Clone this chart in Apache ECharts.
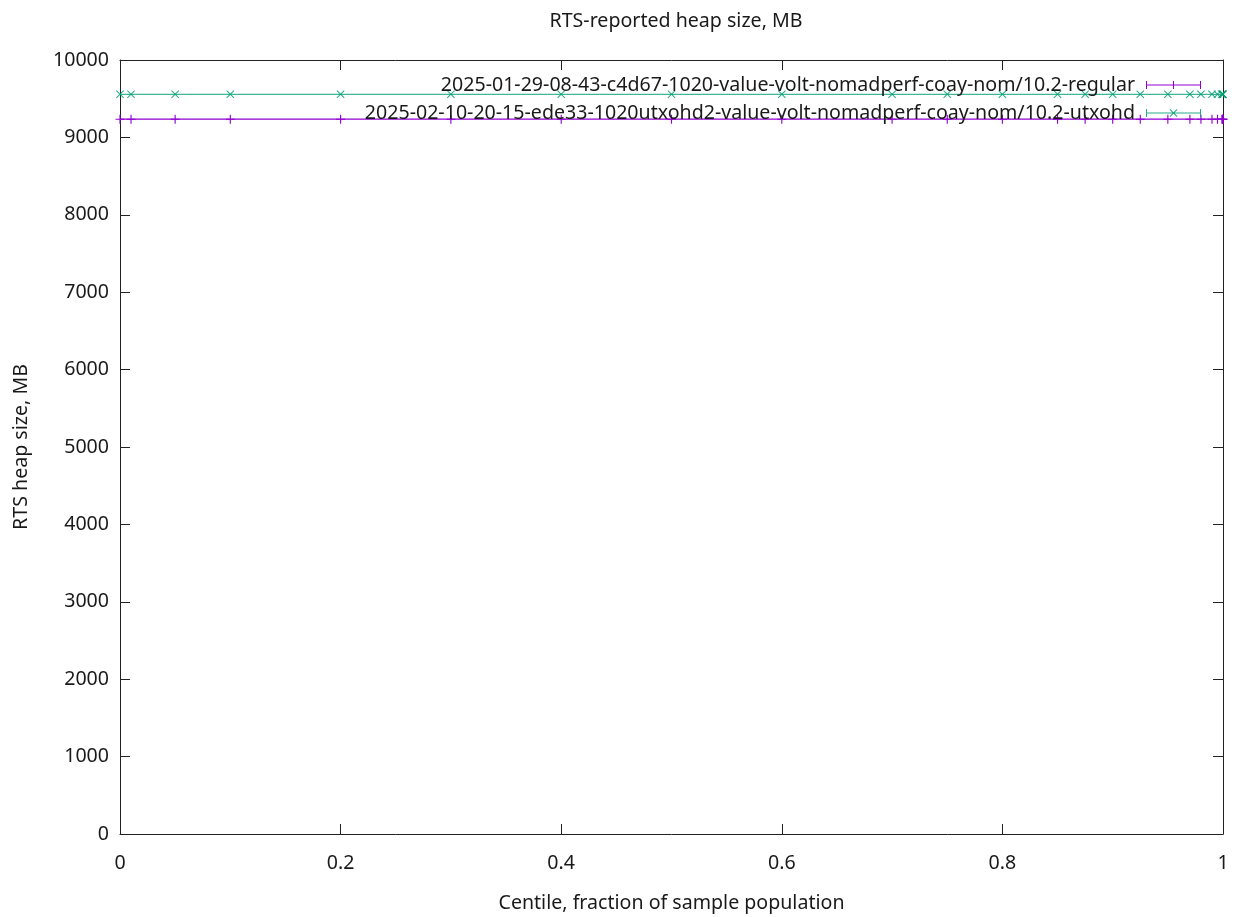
<!DOCTYPE html>
<html>
<head>
<meta charset="utf-8">
<script src="https://cdn.jsdelivr.net/npm/echarts@6/dist/echarts.min.js"></script>
<style>
html,body{margin:0;padding:0;background:#fff;}
#chart{width:1237px;height:917px;}
</style>
</head>
<body>
<div id="chart"></div>
<script>
// Data
const centiles = [0, 0.01, 0.05, 0.1, 0.2, 0.3, 0.4, 0.5, 0.6, 0.7, 0.75, 0.8, 0.85, 0.875, 0.9, 0.925, 0.95, 0.97, 0.98, 0.99, 0.995, 0.999, 0.9995, 0.9999, 1];
const regularHeap = [9235, 9235, 9235, 9235, 9235, 9235, 9235, 9235, 9235, 9235, 9235, 9235, 9235, 9235, 9235, 9235, 9235, 9235, 9235, 9235, 9235, 9235, 9235, 9235, 9235];
const utxohdHeap = [9557, 9557, 9557, 9557, 9557, 9557, 9557, 9557, 9557, 9557, 9557, 9557, 9557, 9557, 9557, 9557, 9557, 9557, 9557, 9557, 9557, 9557, 9557, 9557, 9557];
const seriesNames = [
  '2025-01-29-08-43-c4d67-1020-value-volt-nomadperf-coay-nom/10.2-regular',
  '2025-02-10-20-15-ede33-1020utxohd2-value-volt-nomadperf-coay-nom/10.2-utxohd'
];
const xTicks = [0, 0.2, 0.4, 0.6, 0.8, 1];
const yTicks = [0, 1000, 2000, 3000, 4000, 5000, 6000, 7000, 8000, 9000, 10000];

const purple = '#9400d3';
const green = '#009e73';
const font = 'Noto Sans';
const fs = 19.6;
const txt = '#1a1a1a';

const plusSym = 'path://M0,3.5H8V4.5H0Z M3.5,0H4.5V8H3.5Z';
const crossSym = 'path://M0,0.7L0.7,0L8,7.3L7.3,8Z M0,7.3L7.3,0L8,0.7L0.7,8Z';
const plusIcon = 'path://M0,3.5H55V4.5H0Z M0,0H1V8H0Z M54,0H55V8H54Z M23.5,3.5H31.5V4.5H23.5Z M27,0H28V8H27Z';
const crossIcon = 'path://M0,3.5H55V4.5H0Z M0,0H1V8H0Z M54,0H55V8H54Z M23.5,0.7L24.2,0L31.5,7.3L30.8,8Z M23.5,7.3L30.8,0L31.5,0.7L24.2,8Z';

function pairs(xs, ys){ return xs.map((x,i)=>[x, ys[i]]); }

const chart = echarts.init(document.getElementById('chart'), null, {renderer:'canvas'});
function axisCommon(){
  return {
    axisLine:{show:true, onZero:false, lineStyle:{color:'#222', width:1}},
    axisTick:{show:true, inside:true, length:10, lineStyle:{color:'#222', width:1}},
    splitLine:{show:false}
  };
}
chart.setOption({
  animation:false,
  backgroundColor:'#fff',
  title:{
    text:'RTS-reported heap size, MB',
    left:671, top:6, textAlign:'center',
    textStyle:{fontFamily:font, fontSize:fs, fontWeight:'normal', color:txt}
  },
  legend:{
    orient:'vertical', right:36, top:75, align:'right', padding:0,
    itemWidth:55, itemHeight:8, itemGap:8,
    textStyle:{fontFamily:font, fontSize:fs, color:txt, padding:[0,6,0,0]},
    data:[
      {name:seriesNames[0], icon:plusIcon},
      {name:seriesNames[1], icon:crossIcon}
    ]
  },
  grid:{left:120, right:14, top:60, bottom:83, containLabel:false, outerBoundsMode:'none'},
  xAxis:[
    Object.assign({
      type:'value', min:0, max:1, interval:0.2, position:'bottom',
      name:'Centile, fraction of sample population', nameLocation:'middle', nameGap:59,
      nameTextStyle:{fontFamily:font, fontSize:fs, color:txt},
      axisLabel:{fontFamily:font, fontSize:fs, color:txt, margin:19,
        formatter:function(v){ const t = xTicks.find(k=>Math.abs(k-v)<1e-9); return t===undefined? '' : String(t); }}
    }, axisCommon()),
    Object.assign({
      type:'value', min:0, max:1, interval:0.2, position:'top',
      axisLabel:{show:false}
    }, axisCommon())
  ],
  yAxis:[
    Object.assign({
      type:'value', min:0, max:10000, interval:1000, position:'left',
      name:'RTS heap size, MB', nameLocation:'middle', nameGap:89, nameRotate:90,
      nameTextStyle:{fontFamily:font, fontSize:fs, color:txt},
      axisLabel:{fontFamily:font, fontSize:fs, color:txt, margin:11,
        formatter:function(v){ const t = yTicks.find(k=>k===v); return t===undefined? '' : String(t); }}
    }, axisCommon()),
    Object.assign({
      type:'value', min:0, max:10000, interval:1000, position:'right',
      axisLabel:{show:false}
    }, axisCommon())
  ],
  series:[
    {
      name:seriesNames[0], type:'line', xAxisIndex:0, yAxisIndex:0,
      data:pairs(centiles, regularHeap),
      symbol:plusSym, symbolSize:9, showAllSymbol:true,
      lineStyle:{color:purple, width:1.3},
      itemStyle:{color:purple},
      clip:false, z:2
    },
    {
      name:seriesNames[1], type:'line', xAxisIndex:0, yAxisIndex:0,
      data:pairs(centiles, utxohdHeap),
      symbol:crossSym, symbolSize:8, showAllSymbol:true,
      lineStyle:{color:green, width:1.3, opacity:0.75},
      itemStyle:{color:green, opacity:0.85},
      clip:false, z:3
    }
  ]
});
</script>
</body>
</html>
